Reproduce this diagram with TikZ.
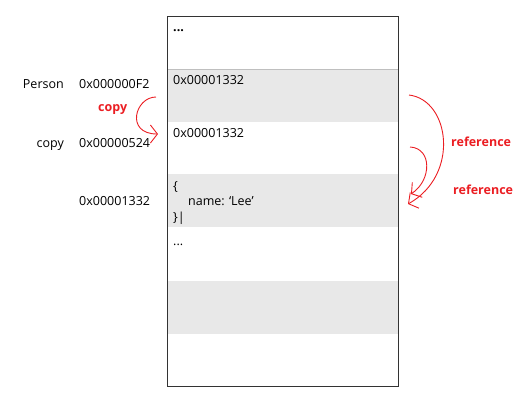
\documentclass[tikz,border=0pt]{standalone}
\usepackage{fontspec}
\setmainfont{Open Sans}
\usetikzlibrary{arrows.meta, calc}
\definecolor{cellgray}{RGB}{232,232,232}
\definecolor{penred}{RGB}{235,30,35}
\tikzset{
  every node/.style = {inner sep=0pt, font=\fontsize{12.5}{15}\selectfont},
  txt/.style = {anchor=base west},
  lbl/.style = {anchor=base east},
  note/.style = {anchor=base west, text=penred, font=\fontsize{12.5}{15}\selectfont\bfseries},
  hand/.style = {draw=penred, line width=0.9pt, -{Straight Barb[length=7pt, width=18pt]}}
}

\begin{document}
\begin{tikzpicture}[x=1pt, y=-1pt]
\useasboundingbox (0,0) rectangle (516,400);
\foreach \y in {69,174,281} \fill[cellgray] (167,\y) rectangle (398,\y+53);
\draw[black!25] (167,69) -- (398,69);
\draw[black!80, line width=0.9pt] (167,16) rectangle (398,386);
\node[txt, font=\fontsize{12.5}{15}\selectfont\bfseries] (dotsA) at (173,31) {...};
\node[txt] (valA) at (173,84) {0x00001332};
\node[txt] (valB) at (173,137) {0x00001332};
\node[txt] (objA) at (173,190) {\{};
\node[txt] (objB) at (188,205) {name: ‘Lee’};
\node[txt] (objC) at (173,221) {\}|};
\node[txt] (dotsB) at (173,245) {...};
\node[lbl] (person) at (64,88) {Person};
\node[txt] (addrA) at (79,88) {0x000000F2};
\node[lbl] (copy) at (64,147) {copy};
\node[txt] (addrB) at (79,147) {0x00000524};
\node[txt] (addrC) at (79,205) {0x00001332};
\node[note] (copyNote) at (98,111) {copy};
\node[note] (refA) at (451,146) {reference};
\node[note] (refB) at (453,194) {reference};
\coordinate (cpS) at (156,97);
\coordinate (cpE) at (158,134);
\coordinate (rfS) at (409,95);
\coordinate (rfE) at (408,204);
\coordinate (rgS) at (410,147);
\coordinate (rgE) at (411,194);
\draw[hand] (cpS) .. controls (135,97) and (125,134) .. (cpE);
\draw[hand] (rfS) .. controls (450,100) and (460,175) .. (rfE);
\draw[hand] (rgS) .. controls (432,148) and (432,180) .. (rgE);
\end{tikzpicture}
\end{document}
